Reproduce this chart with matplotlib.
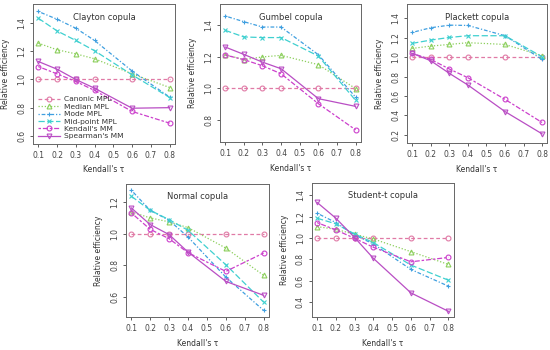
import numpy as np
import matplotlib.pyplot as plt

tau = [0.1, 0.2, 0.3, 0.4, 0.6, 0.8]
methods = ['Canonic MPL', 'Median MPL', 'Mode MPL', 'Mid-point MPL', "Kendall's MM", "Spearman's MM"]

# relative efficiency per copula, one list per method (same order as methods)
clayton = [
    [1.0, 1.0, 1.0, 1.0, 1.0, 1.0],
    [1.258, 1.211, 1.182, 1.147, 1.04, 0.943],
    [1.483, 1.428, 1.364, 1.277, 1.06, 0.875],
    [1.435, 1.345, 1.277, 1.204, 1.033, 0.872],
    [1.092, 1.04, 0.986, 0.922, 0.773, 0.69],
    [1.128, 1.073, 1.0, 0.938, 0.796, 0.80],
]
gumbel = [
    [1.0, 1.0, 1.0, 1.0, 1.0, 1.0],
    [1.213, 1.182, 1.199, 1.209, 1.15, 0.998],
    [1.459, 1.423, 1.389, 1.389, 1.213, 0.944],
    [1.368, 1.326, 1.322, 1.322, 1.205, 0.923],
    [1.211, 1.182, 1.143, 1.092, 0.902, 0.736],
    [1.262, 1.215, 1.166, 1.124, 0.934, 0.885],
]
plackett = [
    [1.0, 1.0, 1.0, 1.0, 1.0, 1.0],
    [1.091, 1.115, 1.132, 1.15, 1.132, 1.016],
    [1.256, 1.304, 1.331, 1.328, 1.222, 0.978],
    [1.143, 1.177, 1.204, 1.222, 1.222, 1.005],
    [1.04, 0.978, 0.879, 0.789, 0.566, 0.327],
    [1.04, 0.964, 0.834, 0.714, 0.44, 0.21],
]
normal = [
    [1.0, 1.0, 1.0, 1.0, 1.0, 1.0],
    [1.137, 1.099, 1.074, 1.038, 0.909, 0.737],
    [1.274, 1.147, 1.084, 0.979, 0.726, 0.516],
    [1.236, 1.147, 1.088, 1.021, 0.804, 0.568],
    [1.131, 1.027, 0.968, 0.88, 0.762, 0.878],
    [1.162, 1.057, 0.994, 0.884, 0.699, 0.611],
]
student = [
    [1.0, 1.0, 1.0, 1.0, 1.0, 1.0],
    [1.107, 1.082, 1.035, 0.991, 0.872, 0.752],
    [1.233, 1.145, 1.029, 0.944, 0.705, 0.548],
    [1.186, 1.133, 1.038, 0.957, 0.746, 0.604],
    [1.145, 1.076, 0.997, 0.913, 0.777, 0.818],
    [1.334, 1.186, 1.004, 0.809, 0.485, 0.312],
]

colors = ['#e07aa6', '#8ccf5c', '#3f9fe0', '#3fd0d0', '#cc40cc', '#b94ec4']
markers = ['o', '^', '+', 'x', 'o', 'v']
styles = [(0, (3, 2)), (0, (1, 1.5)), (0, (1, 1.5, 3, 1.5)), (0, (5, 2)), (0, (2, 1.5, 4, 1.5)), '-']

panels = [
    ('Clayton copula', clayton, [0.06, 0.589, 0.258, 0.4], (0.543, 1.537), [0.6, 0.8, 1.0, 1.2, 1.4]),
    ('Gumbel copula', gumbel, [0.40, 0.594, 0.256, 0.394], (0.658, 1.534), [0.8, 1.0, 1.2, 1.4]),
    ('Plackett copula', plackett, [0.74, 0.591, 0.255, 0.397], (0.114, 1.547), [0.2, 0.4, 0.6, 0.8, 1.0, 1.2, 1.4]),
    ('Normal copula', normal, [0.229, 0.094, 0.26, 0.38], (0.474, 1.312), [0.6, 0.8, 1.0, 1.2]),
    ('Student-t copula', student, [0.567, 0.094, 0.258, 0.383], (0.258, 1.516), [0.4, 0.6, 0.8, 1.0, 1.2, 1.4]),
]

fig = plt.figure(figsize=(5.5, 3.5), dpi=100)
for title, data, pos, ylim, yticks in panels:
    ax = fig.add_axes(pos)
    for vals, c, m, ls, lab in zip(data, colors, markers, styles, methods):
        ax.plot(tau, vals, color=c, linestyle=ls, linewidth=0.9, marker=m,
                markersize=3.5, markerfacecolor='none', markeredgewidth=0.8, label=lab)
    ax.set_xlim(0.072, 0.828)
    ax.set_ylim(*ylim)
    ax.set_xticks([0.1, 0.2, 0.3, 0.4, 0.5, 0.6, 0.7, 0.8])
    ax.set_yticks(yticks)
    ax.set_yticklabels([f'{v:.1f}' for v in yticks], rotation=90, va='center')
    ax.tick_params(labelsize=5.5, length=2.5, width=0.6, colors='#444444', pad=2.5)
    for sp in ax.spines.values():
        sp.set_color('#666666')
        sp.set_linewidth(0.7)
    ax.text(0.5, 0.885, title, transform=ax.transAxes, ha='center', fontsize=6, color='#333333')
    ax.set_ylabel('Relative efficiency', fontsize=5.5, color='#333333', labelpad=5)
    ax.set_xlabel("Kendall's τ", fontsize=5.5, color='#333333', labelpad=4)
    if title == 'Clayton copula':
        ax.legend(loc='lower left', fontsize=5.4, frameon=False, handlelength=3,
                  labelspacing=0.15, borderaxespad=0.2, handletextpad=0.6, labelcolor='#333333')

fig.savefig('out.png', dpi=100)
